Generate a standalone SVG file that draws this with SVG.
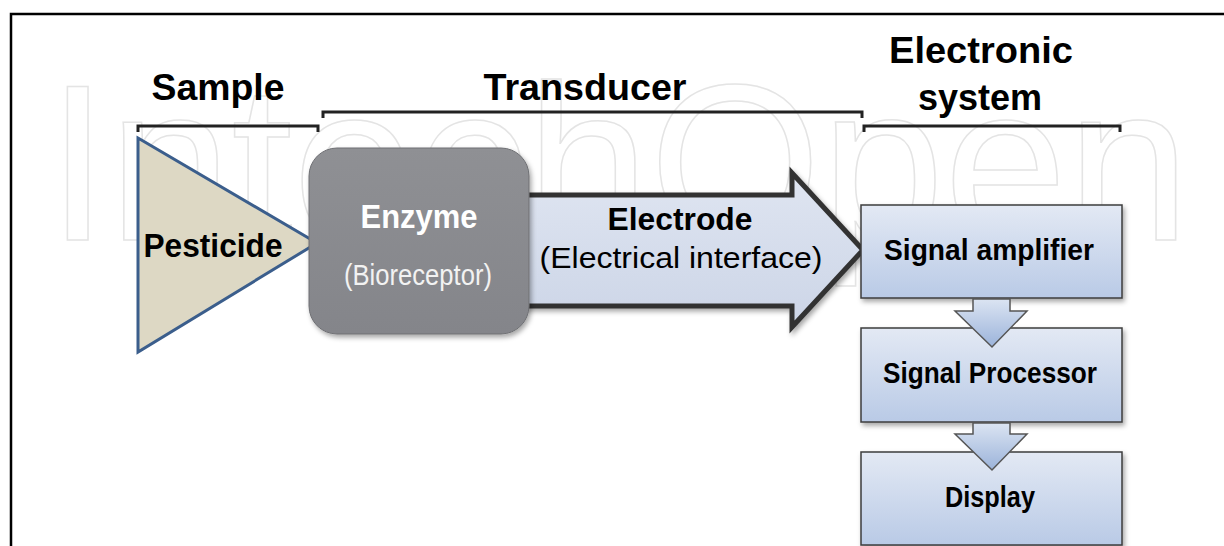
<svg xmlns="http://www.w3.org/2000/svg" width="1224" height="546" viewBox="0 0 1224 546">
<style>
.hdr{font-family:"Liberation Sans",Arial,sans-serif;font-weight:bold;font-size:36px;fill:#000;text-anchor:middle}
.brk{fill:none;stroke:#222;stroke-width:3}
.lbl{font-family:"Liberation Sans",Arial,sans-serif;font-weight:bold;fill:#000;text-anchor:middle}
.reg{font-family:"Liberation Sans",Arial,sans-serif;text-anchor:middle}
.box{fill:url(#boxg);stroke:#3c3c3c;stroke-width:1.5;filter:url(#sh)}
.darr{fill:url(#arrg);stroke:#555;stroke-width:1.5;stroke-linejoin:miter}
</style>
<defs>
<linearGradient id="boxg" x1="0" y1="0" x2="0" y2="1">
<stop offset="0" stop-color="#e3e9f4"/>
<stop offset="1" stop-color="#b9cae6"/>
</linearGradient>
<linearGradient id="arrg" x1="0" y1="0" x2="0" y2="1">
<stop offset="0" stop-color="#dbe4f2"/>
<stop offset="1" stop-color="#9bb3da"/>
</linearGradient>
<linearGradient id="enzg" x1="0" y1="0" x2="0" y2="1">
<stop offset="0" stop-color="#8f9094"/>
<stop offset="1" stop-color="#84858a"/>
</linearGradient>
<linearGradient id="elg" x1="0" y1="0" x2="0" y2="1">
<stop offset="0" stop-color="#dfe5f1"/>
<stop offset="1" stop-color="#ccd5e7"/>
</linearGradient>
<filter id="sh" x="-10%" y="-10%" width="125%" height="130%">
<feDropShadow dx="2" dy="3" stdDeviation="2.5" flood-color="#000" flood-opacity="0.35"/>
</filter>
</defs>
<rect width="1224" height="546" fill="#fff"/>
<g id="watermark">
<text x="47" y="240" font-family="'Liberation Sans',Arial,sans-serif" font-size="222" fill="none" stroke="#e4e4e4" stroke-width="1.5" textLength="1143" lengthAdjust="spacingAndGlyphs">IntechOpen</text>
</g>
<g id="frame">
<path d="M11,546 V14 H1224" fill="none" stroke="#000" stroke-width="2.5"/>
</g>
<g id="headers">
<text class="hdr" x="218" y="100" textLength="133" lengthAdjust="spacingAndGlyphs">Sample</text>
<text class="hdr" x="585" y="100" textLength="203" lengthAdjust="spacingAndGlyphs">Transducer</text>
<text class="hdr" x="981" y="63" textLength="184" lengthAdjust="spacingAndGlyphs">Electronic</text>
<text class="hdr" x="980" y="110">system</text>
<path class="brk" d="M138,132 V126 H318 V132"/>
<path class="brk" d="M323,118 V112 H862 V118"/>
<path class="brk" d="M864,132 V126 H1120 V132"/>
</g>
<g id="connectors">
<g id="electrode">
<polygon points="515,195 792,195 792,173 863,250 792,327 792,306 515,306" fill="url(#elg)" stroke="#333" stroke-width="5" stroke-linejoin="miter" filter="url(#sh)"/>
<text class="lbl" x="680" y="230" font-size="32" textLength="145" lengthAdjust="spacingAndGlyphs">Electrode</text>
<text class="reg" x="681" y="268" font-size="30" fill="#000" textLength="283" lengthAdjust="spacingAndGlyphs">(Electrical interface)</text>
</g>
</g>
<g id="pesticide">
<polygon points="138,138 317,243 138,352" fill="#ddd8c4" stroke="#3b5e8c" stroke-width="3" stroke-linejoin="miter"/>
<text class="lbl" x="213" y="257" font-size="34" textLength="139" lengthAdjust="spacingAndGlyphs">Pesticide</text>
</g>
<g id="enzyme">
<rect x="309" y="148" width="220" height="186" rx="28" fill="url(#enzg)" stroke="#6e6f73" stroke-width="1" filter="url(#sh)"/>
<text class="lbl" x="419" y="228" font-size="34" style="fill:#fff" textLength="117" lengthAdjust="spacingAndGlyphs">Enzyme</text>
<text class="reg" x="418" y="285" font-size="29" fill="#f2f2f2" textLength="148" lengthAdjust="spacingAndGlyphs">(Bioreceptor)</text>
</g>
<g id="amplifier">
<rect class="box" x="861" y="205" width="261" height="93"/>
<text class="lbl" x="989" y="260" font-size="29" textLength="210" lengthAdjust="spacingAndGlyphs">Signal amplifier</text>
</g>
<g id="processor">
<rect class="box" x="861" y="328" width="261" height="94"/>
<text class="lbl" x="990" y="383" font-size="29" textLength="214" lengthAdjust="spacingAndGlyphs">Signal Processor</text>
</g>
<g id="display">
<rect class="box" x="861" y="452" width="261" height="93"/>
<text class="lbl" x="990" y="507" font-size="29" textLength="90" lengthAdjust="spacingAndGlyphs">Display</text>
</g>
<g id="flow-arrows">
<polygon class="darr" points="973,299 1010,299 1010,311 1027,311 992,347 955,311 973,311"/>
<polygon class="darr" points="973,423 1010,423 1010,434 1027,434 992,470 955,434 973,434"/>
</g>
</svg>
